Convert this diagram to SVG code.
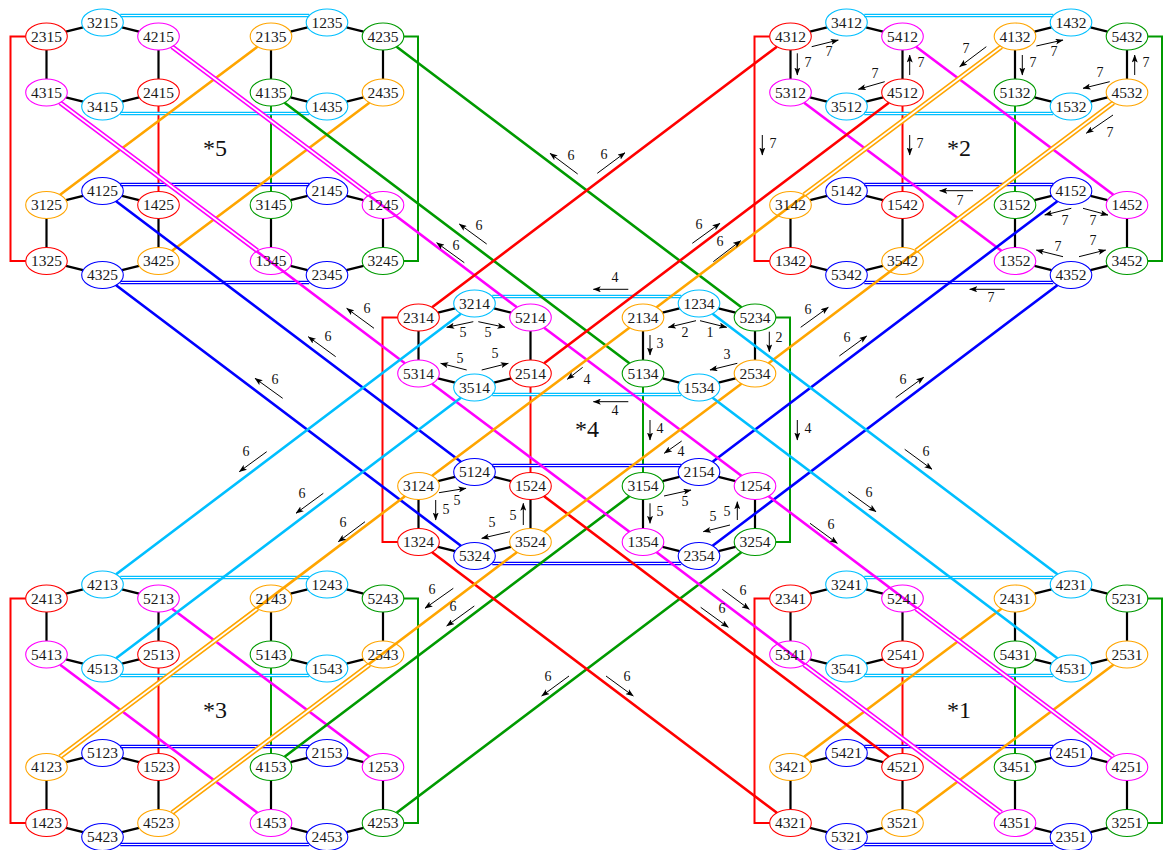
<svg xmlns="http://www.w3.org/2000/svg" xmlns:xlink="http://www.w3.org/1999/xlink" width="1163" height="850" viewBox="0 0 1163 850">
<defs>
<style>
.e{fill:none;stroke:#000;stroke-width:2.2}
.l{fill:none;stroke-width:2.6}
.t{fill:none;stroke-width:2}
.d{fill:none;stroke-width:5}
.dw{fill:none;stroke:#fff;stroke-width:1.8}
.hd{fill:none;stroke-width:3.4}
.hw{fill:none;stroke:#fff;stroke-width:1}
.R{stroke:#ff0000}.C{stroke:#00bfff}.M{stroke:#ff00ff}.O{stroke:#ffa500}.B{stroke:#0000ff}.G{stroke:#009a00}
.a{fill:none;stroke:#000;stroke-width:1;marker-end:url(#ah)}
.lb{font-family:"Liberation Serif",serif;font-size:14px;text-anchor:middle;fill:#111}
.bl{font-family:"Liberation Serif",serif;font-size:24px;text-anchor:middle;fill:#111}
.n ellipse{fill:none;stroke-width:1.1}
.n text{font-family:"Liberation Serif",serif;font-size:15.5px;text-anchor:middle;fill:#1a1a1a}
.r ellipse{stroke:#ff0000}.c ellipse{stroke:#00bfff}.m ellipse{stroke:#ff00ff}.o ellipse{stroke:#ffa500}.b ellipse{stroke:#0000ff}.g ellipse{stroke:#009a00}
</style>
<marker id="ah" markerWidth="8" markerHeight="6" refX="7.5" refY="3" orient="auto" markerUnits="userSpaceOnUse"><path d="M0,0L8,3L0,6L1.8,3Z" fill="#000"/></marker>
<path id="hexE" d="M19.4,-4.9L36.6,-9.1M75.4,-9.1L92.6,-4.9M112,13.5V42.5M92.6,60.9L75.4,65.1M36.6,65.1L19.4,60.9M0,42.5V13.5"/>
<g id="blkInt">
<path class="t R" d="M25.7,36.5H10.5V261H25.7"/>
<path class="t G" d="M403.8,36.5H418V261H403.8"/>
<path class="t R" d="M158.5,106V191.5"/>
<path class="t G" d="M271,106V191.5"/>
<path class="hd C" d="M120.3,15.5H309.2M120.3,113.5H309.2"/>
<path class="hd B" d="M120.3,184.5H309.2M120.3,282.5H309.2"/>
<path class="hw" d="M120.3,15.5H309.2M120.3,113.5H309.2M120.3,184.5H309.2M120.3,282.5H309.2"/>
<g class="e"><use xlink:href="#hexE" x="46.5" y="36.5"/><use xlink:href="#hexE" x="271" y="36.5"/><use xlink:href="#hexE" x="46.5" y="205"/><use xlink:href="#hexE" x="271" y="205"/></g>
</g>
</defs>
<rect width="1163" height="850" fill="#fff"/>
<g id="connectors">
<g id="c5"><use xlink:href="#blkInt"/><path class="l O" d="M257.4,46.7L60.1,194.8M369.4,102.7L172.1,250.8"/></g>
<g id="c2" transform="translate(744,0)"><use xlink:href="#blkInt"/><path class="l M" d="M172.1,46.7L369.4,194.8M60.1,102.7L257.4,250.8"/></g>
<g id="c4" transform="translate(372,281)"><use xlink:href="#blkInt"/></g>
<g id="c3" transform="translate(0,562)"><use xlink:href="#blkInt"/><path class="l M" d="M172.1,46.7L369.4,194.8M60.1,102.7L257.4,250.8"/></g>
<g id="c1" transform="translate(744,562)"><use xlink:href="#blkInt"/><path class="l O" d="M257.4,46.7L60.1,194.8M369.4,102.7L172.1,250.8"/></g>
<g id="long">
<path class="l G" d="M396.6,46.7L741.4,307.3M284.6,102.7L629.4,363.3M629.4,496.2L284.6,756.8M741.4,552.2L396.6,812.8"/>
<path class="l B" d="M116.1,201.2L460.9,461.8M116.1,285.2L460.9,545.8M1057.4,201.2L712.6,461.8M1057.4,285.2L712.6,545.8"/>
<path class="l M" d="M172.1,46.7L516.9,307.3M544.1,327.7L741.4,475.8M768.6,496.2L1113.4,756.8M60.1,102.7L404.9,363.3M432.1,383.7L629.4,531.8M656.6,552.2L1001.4,812.8"/>
<path class="l R" d="M776.9,46.7L432.1,307.3M888.9,102.7L544.1,363.3M432.1,552.2L776.9,812.8M544.1,496.2L888.9,756.8"/>
<path class="l O" d="M1001.4,46.7L656.6,307.3M629.4,327.7L432.1,475.8M404.9,496.2L60.1,756.8M1113.4,102.7L768.6,363.3M741.4,383.7L544.1,531.8M516.9,552.2L172.1,812.8"/>
<path class="l C" d="M460.9,313.7L116.1,574.3M460.9,397.7L116.1,658.3M712.6,313.7L1057.4,574.3M712.6,397.7L1057.4,658.3"/>
</g>
<g id="doubles">
<path class="d M" d="M172.1,46.7L369.4,194.8M60.1,102.7L257.4,250.8M916.1,608.7L1113.4,756.8M804.1,664.7L1001.4,812.8"/>
<path class="d O" d="M1001.4,46.7L804.1,194.8M1113.4,102.7L916.1,250.8M257.4,608.7L60.1,756.8M369.4,664.7L172.1,812.8"/>
<path class="dw" d="M172.1,46.7L369.4,194.8M60.1,102.7L257.4,250.8M916.1,608.7L1113.4,756.8M804.1,664.7L1001.4,812.8M1001.4,46.7L804.1,194.8M1113.4,102.7L916.1,250.8M257.4,608.7L60.1,756.8M369.4,664.7L172.1,812.8"/>
</g>
<g id="arrows">
<path class="a" d="M577.7,174L550,153.3"/><path class="a" d="M486.7,244L459.3,224"/><path class="a" d="M464.3,262.7L436.7,242.7"/>
<path class="a" d="M597.3,173.3L625,152.7"/><path class="a" d="M692.3,243.3L720,223.3"/><path class="a" d="M713.3,261.7L740.7,240.7"/>
<path class="a" d="M282.7,398.3L255,378.3"/><path class="a" d="M266.7,451.7L239.3,471.7"/><path class="a" d="M374,328.3L346.7,308.3"/>
<path class="a" d="M335.7,356.7L308.3,336.7"/><path class="a" d="M323.3,493.3L296,513.3"/><path class="a" d="M365,521.7L338.3,541.7"/>
<path class="a" d="M800.7,327.3L828.3,307.3"/><path class="a" d="M839.3,356L866.7,336"/><path class="a" d="M848.3,491.7L876,511.7"/>
<path class="a" d="M810,523.3L837.3,543.3"/><path class="a" d="M895.7,397.7L923.7,377.3"/><path class="a" d="M904.7,449.3L932,469.3"/>
<path class="a" d="M453.3,588.3L425,608.3"/><path class="a" d="M474.3,606L446.7,626"/><path class="a" d="M569,676L541.7,696"/>
<path class="a" d="M722.3,589.3L749.3,609.3"/><path class="a" d="M700.7,607.3L728.3,627.3"/><path class="a" d="M606,676L633.3,696"/>
<path class="a" d="M811.7,46.7L838.3,40"/><path class="a" d="M797.3,53.3V75"/><path class="a" d="M884.7,81.7L858.3,89.3"/>
<path class="a" d="M762.3,135V155"/><path class="a" d="M909.7,75V55"/><path class="a" d="M986.3,46.7L959.7,66.7"/>
<path class="a" d="M1036.3,46L1063,40"/><path class="a" d="M1022.3,55V75"/><path class="a" d="M1134.7,75V55"/>
<path class="a" d="M1109.7,81.7L1083,88.3"/><path class="a" d="M1113,115L1086.3,133.3"/><path class="a" d="M909.7,135V155"/>
<path class="a" d="M973,190.7H939.7"/><path class="a" d="M1071.3,208.3L1044.7,215"/><path class="a" d="M1083,208.3L1108,215"/>
<path class="a" d="M1063,256.7L1036.3,250"/><path class="a" d="M1079,256.7L1105.7,250"/><path class="a" d="M1004.7,289.3H969.7"/>
<path class="a" d="M628.3,289.3H593.3"/><path class="a" d="M473.3,321.7L446.7,327.3"/><path class="a" d="M478.3,321.7L505,327.3"/>
<path class="a" d="M466.7,370L440.7,363.3"/><path class="a" d="M481.7,370L508.3,363.3"/><path class="a" d="M582.7,367.3L567.3,379.3"/>
<path class="a" d="M439,492.7L466,488.3"/><path class="a" d="M435.7,500V520"/><path class="a" d="M523.3,525V503.3"/>
<path class="a" d="M510,531.7L481.7,538.3"/><path class="a" d="M696,320.7L668.3,327.3"/><path class="a" d="M700,320.7L726.7,327.3"/>
<path class="a" d="M650,335V355"/><path class="a" d="M769.3,331.7V351.7"/><path class="a" d="M737.3,363.3L710,370"/>
<path class="a" d="M628.3,401.7H593.3"/><path class="a" d="M650,420V440"/><path class="a" d="M797.3,420V440"/>
<path class="a" d="M681.7,441L664.3,453.3"/><path class="a" d="M664,496L691,490"/><path class="a" d="M650,503.3V523.3"/>
<path class="a" d="M737.3,520V501.7"/><path class="a" d="M730,525L703.3,531.7"/>
</g>
</g>
<g id="labels">
<text class="lb" x="571" y="160">6</text><text class="lb" x="479" y="230">6</text><text class="lb" x="456" y="250">6</text>
<text class="lb" x="604" y="159">6</text><text class="lb" x="699" y="229">6</text><text class="lb" x="720" y="246">6</text>
<text class="lb" x="275" y="384">6</text><text class="lb" x="246" y="456">6</text><text class="lb" x="367" y="313">6</text>
<text class="lb" x="328" y="341">6</text><text class="lb" x="302" y="498">6</text><text class="lb" x="343" y="527">6</text>
<text class="lb" x="808" y="314">6</text><text class="lb" x="847" y="342">6</text><text class="lb" x="869" y="497">6</text>
<text class="lb" x="831" y="529">6</text><text class="lb" x="903" y="384">6</text><text class="lb" x="926" y="456">6</text>
<text class="lb" x="432" y="594">6</text><text class="lb" x="453" y="611">6</text><text class="lb" x="548" y="681">6</text>
<text class="lb" x="743" y="595">6</text><text class="lb" x="722" y="613">6</text><text class="lb" x="627" y="681">6</text>
<text class="lb" x="829" y="56">7</text><text class="lb" x="808" y="67">7</text><text class="lb" x="875" y="78">7</text>
<text class="lb" x="773" y="148">7</text><text class="lb" x="921" y="67">7</text><text class="lb" x="966" y="53">7</text>
<text class="lb" x="1054" y="56">7</text><text class="lb" x="1033" y="67">7</text><text class="lb" x="1146" y="67">7</text>
<text class="lb" x="1100" y="77">7</text><text class="lb" x="1110" y="137">7</text><text class="lb" x="920" y="148">7</text>
<text class="lb" x="960" y="205">7</text><text class="lb" x="1065" y="225">7</text><text class="lb" x="1093" y="225">7</text>
<text class="lb" x="1058" y="251">7</text><text class="lb" x="1093" y="245">7</text><text class="lb" x="991" y="302">7</text>
<text class="lb" x="615" y="282">4</text><text class="lb" x="463" y="337">5</text><text class="lb" x="488" y="337">5</text>
<text class="lb" x="460" y="363">5</text><text class="lb" x="495" y="358">5</text><text class="lb" x="587" y="384">4</text>
<text class="lb" x="457" y="505">5</text><text class="lb" x="446" y="514">5</text><text class="lb" x="513" y="520">5</text>
<text class="lb" x="492" y="527">5</text><text class="lb" x="685" y="337">2</text><text class="lb" x="710" y="337">1</text>
<text class="lb" x="660" y="348">3</text><text class="lb" x="779" y="342">2</text><text class="lb" x="727" y="359">3</text>
<text class="lb" x="615" y="415">4</text><text class="lb" x="660" y="433">4</text><text class="lb" x="808" y="433">4</text>
<text class="lb" x="681" y="456">4</text><text class="lb" x="685" y="506">5</text><text class="lb" x="660" y="516">5</text>
<text class="lb" x="727" y="516">5</text><text class="lb" x="713" y="521">5</text>
<text class="bl" x="215" y="156">*5</text><text class="bl" x="959" y="156">*2</text><text class="bl" x="587" y="437">*4</text>
<text class="bl" x="215" y="718">*3</text><text class="bl" x="959" y="718">*1</text>
</g>
<g id="block5">
<g id="n2315" class="n r" transform="translate(46.5,36.5)"><ellipse rx="20.8" ry="13.5"/><text y="5.3">2315</text></g>
<g id="n3215" class="n c" transform="translate(102.5,22.5)"><ellipse rx="20.8" ry="13.5"/><text y="5.3">3215</text></g>
<g id="n4215" class="n m" transform="translate(158.5,36.5)"><ellipse rx="20.8" ry="13.5"/><text y="5.3">4215</text></g>
<g id="n4315" class="n m" transform="translate(46.5,92.5)"><ellipse rx="20.8" ry="13.5"/><text y="5.3">4315</text></g>
<g id="n3415" class="n c" transform="translate(102.5,106.5)"><ellipse rx="20.8" ry="13.5"/><text y="5.3">3415</text></g>
<g id="n2415" class="n r" transform="translate(158.5,92.5)"><ellipse rx="20.8" ry="13.5"/><text y="5.3">2415</text></g>
<g id="n2135" class="n o" transform="translate(271,36.5)"><ellipse rx="20.8" ry="13.5"/><text y="5.3">2135</text></g>
<g id="n1235" class="n c" transform="translate(327,22.5)"><ellipse rx="20.8" ry="13.5"/><text y="5.3">1235</text></g>
<g id="n4235" class="n g" transform="translate(383,36.5)"><ellipse rx="20.8" ry="13.5"/><text y="5.3">4235</text></g>
<g id="n4135" class="n g" transform="translate(271,92.5)"><ellipse rx="20.8" ry="13.5"/><text y="5.3">4135</text></g>
<g id="n1435" class="n c" transform="translate(327,106.5)"><ellipse rx="20.8" ry="13.5"/><text y="5.3">1435</text></g>
<g id="n2435" class="n o" transform="translate(383,92.5)"><ellipse rx="20.8" ry="13.5"/><text y="5.3">2435</text></g>
<g id="n3125" class="n o" transform="translate(46.5,205)"><ellipse rx="20.8" ry="13.5"/><text y="5.3">3125</text></g>
<g id="n4125" class="n b" transform="translate(102.5,191)"><ellipse rx="20.8" ry="13.5"/><text y="5.3">4125</text></g>
<g id="n1425" class="n r" transform="translate(158.5,205)"><ellipse rx="20.8" ry="13.5"/><text y="5.3">1425</text></g>
<g id="n1325" class="n r" transform="translate(46.5,261)"><ellipse rx="20.8" ry="13.5"/><text y="5.3">1325</text></g>
<g id="n4325" class="n b" transform="translate(102.5,275)"><ellipse rx="20.8" ry="13.5"/><text y="5.3">4325</text></g>
<g id="n3425" class="n o" transform="translate(158.5,261)"><ellipse rx="20.8" ry="13.5"/><text y="5.3">3425</text></g>
<g id="n3145" class="n g" transform="translate(271,205)"><ellipse rx="20.8" ry="13.5"/><text y="5.3">3145</text></g>
<g id="n2145" class="n b" transform="translate(327,191)"><ellipse rx="20.8" ry="13.5"/><text y="5.3">2145</text></g>
<g id="n1245" class="n m" transform="translate(383,205)"><ellipse rx="20.8" ry="13.5"/><text y="5.3">1245</text></g>
<g id="n1345" class="n m" transform="translate(271,261)"><ellipse rx="20.8" ry="13.5"/><text y="5.3">1345</text></g>
<g id="n2345" class="n b" transform="translate(327,275)"><ellipse rx="20.8" ry="13.5"/><text y="5.3">2345</text></g>
<g id="n3245" class="n g" transform="translate(383,261)"><ellipse rx="20.8" ry="13.5"/><text y="5.3">3245</text></g>
</g>
<g id="block2" transform="translate(744,0)">
<g id="n4312" class="n r" transform="translate(46.5,36.5)"><ellipse rx="20.8" ry="13.5"/><text y="5.3">4312</text></g>
<g id="n3412" class="n c" transform="translate(102.5,22.5)"><ellipse rx="20.8" ry="13.5"/><text y="5.3">3412</text></g>
<g id="n5412" class="n m" transform="translate(158.5,36.5)"><ellipse rx="20.8" ry="13.5"/><text y="5.3">5412</text></g>
<g id="n5312" class="n m" transform="translate(46.5,92.5)"><ellipse rx="20.8" ry="13.5"/><text y="5.3">5312</text></g>
<g id="n3512" class="n c" transform="translate(102.5,106.5)"><ellipse rx="20.8" ry="13.5"/><text y="5.3">3512</text></g>
<g id="n4512" class="n r" transform="translate(158.5,92.5)"><ellipse rx="20.8" ry="13.5"/><text y="5.3">4512</text></g>
<g id="n4132" class="n o" transform="translate(271,36.5)"><ellipse rx="20.8" ry="13.5"/><text y="5.3">4132</text></g>
<g id="n1432" class="n c" transform="translate(327,22.5)"><ellipse rx="20.8" ry="13.5"/><text y="5.3">1432</text></g>
<g id="n5432" class="n g" transform="translate(383,36.5)"><ellipse rx="20.8" ry="13.5"/><text y="5.3">5432</text></g>
<g id="n5132" class="n g" transform="translate(271,92.5)"><ellipse rx="20.8" ry="13.5"/><text y="5.3">5132</text></g>
<g id="n1532" class="n c" transform="translate(327,106.5)"><ellipse rx="20.8" ry="13.5"/><text y="5.3">1532</text></g>
<g id="n4532" class="n o" transform="translate(383,92.5)"><ellipse rx="20.8" ry="13.5"/><text y="5.3">4532</text></g>
<g id="n3142" class="n o" transform="translate(46.5,205)"><ellipse rx="20.8" ry="13.5"/><text y="5.3">3142</text></g>
<g id="n5142" class="n b" transform="translate(102.5,191)"><ellipse rx="20.8" ry="13.5"/><text y="5.3">5142</text></g>
<g id="n1542" class="n r" transform="translate(158.5,205)"><ellipse rx="20.8" ry="13.5"/><text y="5.3">1542</text></g>
<g id="n1342" class="n r" transform="translate(46.5,261)"><ellipse rx="20.8" ry="13.5"/><text y="5.3">1342</text></g>
<g id="n5342" class="n b" transform="translate(102.5,275)"><ellipse rx="20.8" ry="13.5"/><text y="5.3">5342</text></g>
<g id="n3542" class="n o" transform="translate(158.5,261)"><ellipse rx="20.8" ry="13.5"/><text y="5.3">3542</text></g>
<g id="n3152" class="n g" transform="translate(271,205)"><ellipse rx="20.8" ry="13.5"/><text y="5.3">3152</text></g>
<g id="n4152" class="n b" transform="translate(327,191)"><ellipse rx="20.8" ry="13.5"/><text y="5.3">4152</text></g>
<g id="n1452" class="n m" transform="translate(383,205)"><ellipse rx="20.8" ry="13.5"/><text y="5.3">1452</text></g>
<g id="n1352" class="n m" transform="translate(271,261)"><ellipse rx="20.8" ry="13.5"/><text y="5.3">1352</text></g>
<g id="n4352" class="n b" transform="translate(327,275)"><ellipse rx="20.8" ry="13.5"/><text y="5.3">4352</text></g>
<g id="n3452" class="n g" transform="translate(383,261)"><ellipse rx="20.8" ry="13.5"/><text y="5.3">3452</text></g>
</g>
<g id="block4" transform="translate(372,281)">
<g id="n2314" class="n r" transform="translate(46.5,36.5)"><ellipse rx="20.8" ry="13.5"/><text y="5.3">2314</text></g>
<g id="n3214" class="n c" transform="translate(102.5,22.5)"><ellipse rx="20.8" ry="13.5"/><text y="5.3">3214</text></g>
<g id="n5214" class="n m" transform="translate(158.5,36.5)"><ellipse rx="20.8" ry="13.5"/><text y="5.3">5214</text></g>
<g id="n5314" class="n m" transform="translate(46.5,92.5)"><ellipse rx="20.8" ry="13.5"/><text y="5.3">5314</text></g>
<g id="n3514" class="n c" transform="translate(102.5,106.5)"><ellipse rx="20.8" ry="13.5"/><text y="5.3">3514</text></g>
<g id="n2514" class="n r" transform="translate(158.5,92.5)"><ellipse rx="20.8" ry="13.5"/><text y="5.3">2514</text></g>
<g id="n2134" class="n o" transform="translate(271,36.5)"><ellipse rx="20.8" ry="13.5"/><text y="5.3">2134</text></g>
<g id="n1234" class="n c" transform="translate(327,22.5)"><ellipse rx="20.8" ry="13.5"/><text y="5.3">1234</text></g>
<g id="n5234" class="n g" transform="translate(383,36.5)"><ellipse rx="20.8" ry="13.5"/><text y="5.3">5234</text></g>
<g id="n5134" class="n g" transform="translate(271,92.5)"><ellipse rx="20.8" ry="13.5"/><text y="5.3">5134</text></g>
<g id="n1534" class="n c" transform="translate(327,106.5)"><ellipse rx="20.8" ry="13.5"/><text y="5.3">1534</text></g>
<g id="n2534" class="n o" transform="translate(383,92.5)"><ellipse rx="20.8" ry="13.5"/><text y="5.3">2534</text></g>
<g id="n3124" class="n o" transform="translate(46.5,205)"><ellipse rx="20.8" ry="13.5"/><text y="5.3">3124</text></g>
<g id="n5124" class="n b" transform="translate(102.5,191)"><ellipse rx="20.8" ry="13.5"/><text y="5.3">5124</text></g>
<g id="n1524" class="n r" transform="translate(158.5,205)"><ellipse rx="20.8" ry="13.5"/><text y="5.3">1524</text></g>
<g id="n1324" class="n r" transform="translate(46.5,261)"><ellipse rx="20.8" ry="13.5"/><text y="5.3">1324</text></g>
<g id="n5324" class="n b" transform="translate(102.5,275)"><ellipse rx="20.8" ry="13.5"/><text y="5.3">5324</text></g>
<g id="n3524" class="n o" transform="translate(158.5,261)"><ellipse rx="20.8" ry="13.5"/><text y="5.3">3524</text></g>
<g id="n3154" class="n g" transform="translate(271,205)"><ellipse rx="20.8" ry="13.5"/><text y="5.3">3154</text></g>
<g id="n2154" class="n b" transform="translate(327,191)"><ellipse rx="20.8" ry="13.5"/><text y="5.3">2154</text></g>
<g id="n1254" class="n m" transform="translate(383,205)"><ellipse rx="20.8" ry="13.5"/><text y="5.3">1254</text></g>
<g id="n1354" class="n m" transform="translate(271,261)"><ellipse rx="20.8" ry="13.5"/><text y="5.3">1354</text></g>
<g id="n2354" class="n b" transform="translate(327,275)"><ellipse rx="20.8" ry="13.5"/><text y="5.3">2354</text></g>
<g id="n3254" class="n g" transform="translate(383,261)"><ellipse rx="20.8" ry="13.5"/><text y="5.3">3254</text></g>
</g>
<g id="block3" transform="translate(0,562)">
<g id="n2413" class="n r" transform="translate(46.5,36.5)"><ellipse rx="20.8" ry="13.5"/><text y="5.3">2413</text></g>
<g id="n4213" class="n c" transform="translate(102.5,22.5)"><ellipse rx="20.8" ry="13.5"/><text y="5.3">4213</text></g>
<g id="n5213" class="n m" transform="translate(158.5,36.5)"><ellipse rx="20.8" ry="13.5"/><text y="5.3">5213</text></g>
<g id="n5413" class="n m" transform="translate(46.5,92.5)"><ellipse rx="20.8" ry="13.5"/><text y="5.3">5413</text></g>
<g id="n4513" class="n c" transform="translate(102.5,106.5)"><ellipse rx="20.8" ry="13.5"/><text y="5.3">4513</text></g>
<g id="n2513" class="n r" transform="translate(158.5,92.5)"><ellipse rx="20.8" ry="13.5"/><text y="5.3">2513</text></g>
<g id="n2143" class="n o" transform="translate(271,36.5)"><ellipse rx="20.8" ry="13.5"/><text y="5.3">2143</text></g>
<g id="n1243" class="n c" transform="translate(327,22.5)"><ellipse rx="20.8" ry="13.5"/><text y="5.3">1243</text></g>
<g id="n5243" class="n g" transform="translate(383,36.5)"><ellipse rx="20.8" ry="13.5"/><text y="5.3">5243</text></g>
<g id="n5143" class="n g" transform="translate(271,92.5)"><ellipse rx="20.8" ry="13.5"/><text y="5.3">5143</text></g>
<g id="n1543" class="n c" transform="translate(327,106.5)"><ellipse rx="20.8" ry="13.5"/><text y="5.3">1543</text></g>
<g id="n2543" class="n o" transform="translate(383,92.5)"><ellipse rx="20.8" ry="13.5"/><text y="5.3">2543</text></g>
<g id="n4123" class="n o" transform="translate(46.5,205)"><ellipse rx="20.8" ry="13.5"/><text y="5.3">4123</text></g>
<g id="n5123" class="n b" transform="translate(102.5,191)"><ellipse rx="20.8" ry="13.5"/><text y="5.3">5123</text></g>
<g id="n1523" class="n r" transform="translate(158.5,205)"><ellipse rx="20.8" ry="13.5"/><text y="5.3">1523</text></g>
<g id="n1423" class="n r" transform="translate(46.5,261)"><ellipse rx="20.8" ry="13.5"/><text y="5.3">1423</text></g>
<g id="n5423" class="n b" transform="translate(102.5,275)"><ellipse rx="20.8" ry="13.5"/><text y="5.3">5423</text></g>
<g id="n4523" class="n o" transform="translate(158.5,261)"><ellipse rx="20.8" ry="13.5"/><text y="5.3">4523</text></g>
<g id="n4153" class="n g" transform="translate(271,205)"><ellipse rx="20.8" ry="13.5"/><text y="5.3">4153</text></g>
<g id="n2153" class="n b" transform="translate(327,191)"><ellipse rx="20.8" ry="13.5"/><text y="5.3">2153</text></g>
<g id="n1253" class="n m" transform="translate(383,205)"><ellipse rx="20.8" ry="13.5"/><text y="5.3">1253</text></g>
<g id="n1453" class="n m" transform="translate(271,261)"><ellipse rx="20.8" ry="13.5"/><text y="5.3">1453</text></g>
<g id="n2453" class="n b" transform="translate(327,275)"><ellipse rx="20.8" ry="13.5"/><text y="5.3">2453</text></g>
<g id="n4253" class="n g" transform="translate(383,261)"><ellipse rx="20.8" ry="13.5"/><text y="5.3">4253</text></g>
</g>
<g id="block1" transform="translate(744,562)">
<g id="n2341" class="n r" transform="translate(46.5,36.5)"><ellipse rx="20.8" ry="13.5"/><text y="5.3">2341</text></g>
<g id="n3241" class="n c" transform="translate(102.5,22.5)"><ellipse rx="20.8" ry="13.5"/><text y="5.3">3241</text></g>
<g id="n5241" class="n m" transform="translate(158.5,36.5)"><ellipse rx="20.8" ry="13.5"/><text y="5.3">5241</text></g>
<g id="n5341" class="n m" transform="translate(46.5,92.5)"><ellipse rx="20.8" ry="13.5"/><text y="5.3">5341</text></g>
<g id="n3541" class="n c" transform="translate(102.5,106.5)"><ellipse rx="20.8" ry="13.5"/><text y="5.3">3541</text></g>
<g id="n2541" class="n r" transform="translate(158.5,92.5)"><ellipse rx="20.8" ry="13.5"/><text y="5.3">2541</text></g>
<g id="n2431" class="n o" transform="translate(271,36.5)"><ellipse rx="20.8" ry="13.5"/><text y="5.3">2431</text></g>
<g id="n4231" class="n c" transform="translate(327,22.5)"><ellipse rx="20.8" ry="13.5"/><text y="5.3">4231</text></g>
<g id="n5231" class="n g" transform="translate(383,36.5)"><ellipse rx="20.8" ry="13.5"/><text y="5.3">5231</text></g>
<g id="n5431" class="n g" transform="translate(271,92.5)"><ellipse rx="20.8" ry="13.5"/><text y="5.3">5431</text></g>
<g id="n4531" class="n c" transform="translate(327,106.5)"><ellipse rx="20.8" ry="13.5"/><text y="5.3">4531</text></g>
<g id="n2531" class="n o" transform="translate(383,92.5)"><ellipse rx="20.8" ry="13.5"/><text y="5.3">2531</text></g>
<g id="n3421" class="n o" transform="translate(46.5,205)"><ellipse rx="20.8" ry="13.5"/><text y="5.3">3421</text></g>
<g id="n5421" class="n b" transform="translate(102.5,191)"><ellipse rx="20.8" ry="13.5"/><text y="5.3">5421</text></g>
<g id="n4521" class="n r" transform="translate(158.5,205)"><ellipse rx="20.8" ry="13.5"/><text y="5.3">4521</text></g>
<g id="n4321" class="n r" transform="translate(46.5,261)"><ellipse rx="20.8" ry="13.5"/><text y="5.3">4321</text></g>
<g id="n5321" class="n b" transform="translate(102.5,275)"><ellipse rx="20.8" ry="13.5"/><text y="5.3">5321</text></g>
<g id="n3521" class="n o" transform="translate(158.5,261)"><ellipse rx="20.8" ry="13.5"/><text y="5.3">3521</text></g>
<g id="n3451" class="n g" transform="translate(271,205)"><ellipse rx="20.8" ry="13.5"/><text y="5.3">3451</text></g>
<g id="n2451" class="n b" transform="translate(327,191)"><ellipse rx="20.8" ry="13.5"/><text y="5.3">2451</text></g>
<g id="n4251" class="n m" transform="translate(383,205)"><ellipse rx="20.8" ry="13.5"/><text y="5.3">4251</text></g>
<g id="n4351" class="n m" transform="translate(271,261)"><ellipse rx="20.8" ry="13.5"/><text y="5.3">4351</text></g>
<g id="n2351" class="n b" transform="translate(327,275)"><ellipse rx="20.8" ry="13.5"/><text y="5.3">2351</text></g>
<g id="n3251" class="n g" transform="translate(383,261)"><ellipse rx="20.8" ry="13.5"/><text y="5.3">3251</text></g>
</g>
</svg>
